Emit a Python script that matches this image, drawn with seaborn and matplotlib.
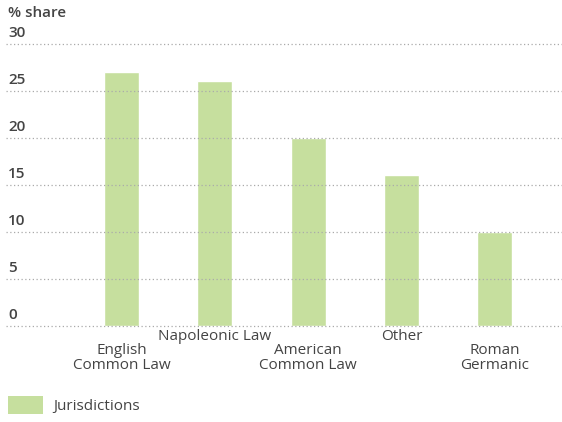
import matplotlib
matplotlib.use("Agg")
import matplotlib.pyplot as plt
import matplotlib.transforms as mtransforms
import seaborn as sns
import pandas as pd
from matplotlib.patches import Patch

categories = ["English\nCommon Law", "Napoleonic Law", "American\nCommon Law", "Other", "Roman\nGermanic"]
values = [27, 26, 20, 16, 10]
yticks = [0, 5, 10, 15, 20, 25, 30]
series_name = "Jurisdictions"

sns.set_theme(style="white")
plt.rcParams['font.family'] = ['Open Sans', 'DejaVu Sans']

df = pd.DataFrame({"cat": categories, "val": values})
green = "#c6df9e"
txt = "#444444"
fs = 11

fig = plt.figure(figsize=(5.62, 4.22), dpi=100)
ax = fig.add_axes([0.01, 0.228, 0.99, 0.668])
sns.barplot(data=df, x="cat", y="val", color=green, saturation=1, width=0.375, ax=ax)

ax.set_ylim(0, 30)
ax.set_xlim(-1.24, 4.72)
ax.set_yticks(yticks)
ax.set_yticklabels([str(t) for t in yticks])
ax.yaxis.grid(True, linestyle=(0, (1, 2)), color="#aaaaaa", linewidth=0.9)
for gl in ax.yaxis.get_gridlines():
    gl.set_clip_on(False)
ax.set_axisbelow(False)
for s in ax.spines.values():
    s.set_visible(False)
ax.tick_params(axis='y', length=0, pad=-2, labelsize=fs, labelcolor=txt)
up = mtransforms.ScaledTranslation(0, 2.5 / 72, fig.dpi_scale_trans)
for lbl in ax.get_yticklabels():
    lbl.set_ha('left')
    lbl.set_va('bottom')
    lbl.set_fontweight('semibold')
    lbl.set_transform(lbl.get_transform() + up)
ax.tick_params(axis='x', length=0, pad=2, labelsize=fs, labelcolor=txt)
ax.set_xticks(range(len(categories)))
ax.set_xticklabels(categories, linespacing=1.0, va='top')
for i, tk in enumerate(ax.xaxis.get_major_ticks()):
    tk.set_pad(2 if i % 2 == 1 else 12.5)
ax.set_xlabel("")
ax.set_ylabel("")

fig.text(0.014, 0.985, "% share", ha='left', va='top', fontsize=fs, color=txt, fontweight='semibold')

handles = [Patch(facecolor=green, edgecolor='none', label=series_name)]
fig.legend(handles=handles, loc='lower left', bbox_to_anchor=(0.0, 0.0), frameon=False,
           fontsize=fs, handlelength=2.3, handleheight=1.5, handletextpad=0.7,
           labelcolor=txt, borderaxespad=0.1, borderpad=0.4)

fig.savefig("out.png", dpi=100)
